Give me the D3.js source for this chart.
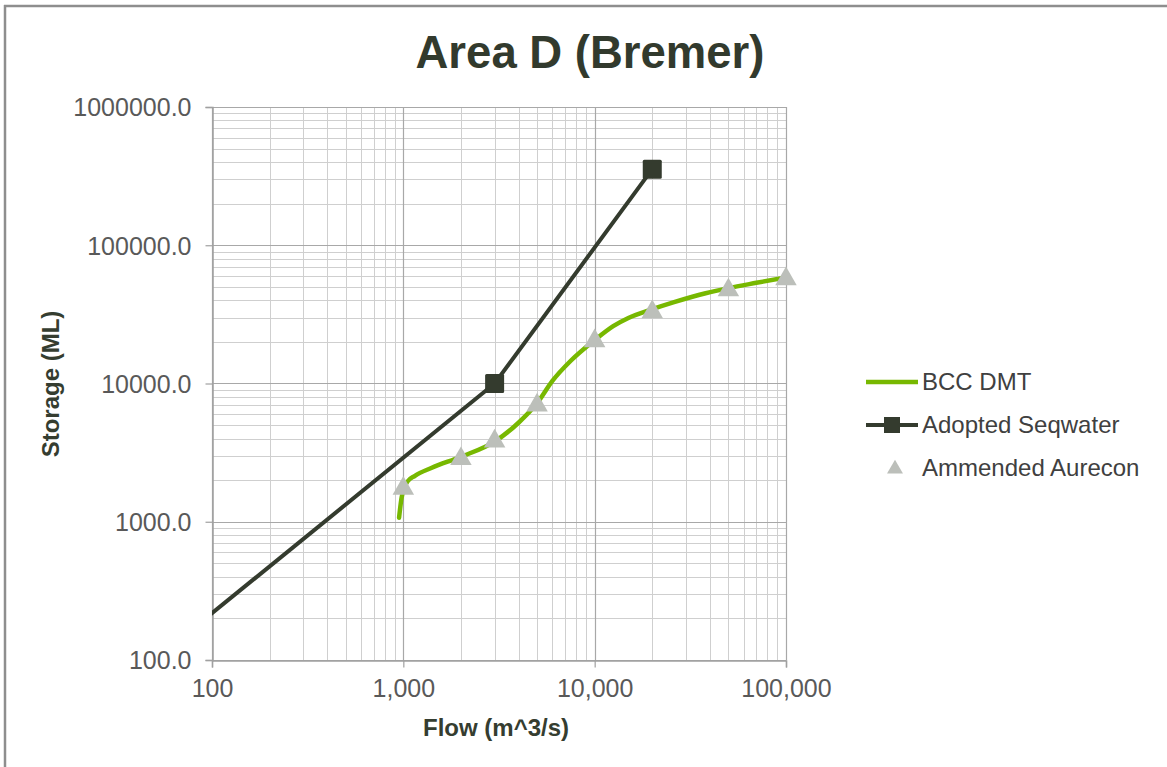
<!DOCTYPE html>
<html>
<head>
<meta charset="utf-8">
<script src="https://cdn.jsdelivr.net/npm/d3@7"></script>
<style>
  html, body { margin: 0; padding: 0; background: #fff; }
  svg { display: block; font-family: "Liberation Sans", Arial, sans-serif; }
</style>
</head>
<body>
<svg id="chart" width="1167" height="767"></svg>
<script>
// Flow (m^3/s) vs storage (ML) for Area D (Bremer)
const bccFlow    = [950, 980, 1050, 1150, 1400, 2000, 3000, 4000, 5000, 6000, 7500, 10000, 12500, 15000, 20000, 26000, 38000, 50000, 70000, 100000];
const bccStorage = [1070, 1500, 1950, 2150, 2450, 2950, 3800, 5200, 7200, 10400, 14600, 20600, 26000, 29800, 34500, 38800, 45000, 49000, 53500, 58500];

const seqFlow    = [50, 3000, 20000];
const seqStorage = [100, 10000, 355000];

const aurFlow    = [1000, 2000, 3000, 5000, 10000, 20000, 50000, 100000];
const aurStorage = [1800, 2950, 3950, 7200, 21000, 34000, 49000, 59000];

const xTicks = [100, 1000, 10000, 100000];
const yTicks = [100, 1000, 10000, 100000, 1000000];

const seriesNames = ["BCC DMT", "Adopted Seqwater", "Ammended Aurecon"];

const svg = d3.select("#chart");
const pLeft = 212, pRight = 786, pTop = 107, pBottom = 660;

const x = d3.scaleLog().domain([100, 100000]).range([pLeft, pRight]);
const y = d3.scaleLog().domain([100, 1000000]).range([pBottom, pTop]);

// Outer frame edges
svg.append("line").attr("x1", 5).attr("x2", 5).attr("y1", 5).attr("y2", 767)
  .attr("stroke", "#8e8e8e").attr("stroke-width", 2.5);
svg.append("line").attr("x1", 4).attr("x2", 1167).attr("y1", 6).attr("y2", 6)
  .attr("stroke", "#8e8e8e").attr("stroke-width", 2.5);

// Title
svg.append("text").attr("x", 590).attr("y", 68).attr("text-anchor", "middle")
  .attr("font-size", 45.5).attr("font-weight", "bold").attr("fill", "#323a2d")
  .text("Area D (Bremer)");

// Minor gridlines (2..9 in each decade)
const minorX = [], minorY = [];
for (let d = 100; d < 100000; d *= 10) for (let k = 2; k <= 9; k++) minorX.push(d * k);
for (let d = 100; d < 1000000; d *= 10) for (let k = 2; k <= 9; k++) minorY.push(d * k);

const grid = svg.append("g");
grid.selectAll(".mx").data(minorX).join("line")
  .attr("x1", d => Math.round(x(d)) + 0.5).attr("x2", d => Math.round(x(d)) + 0.5)
  .attr("y1", pTop).attr("y2", pBottom).attr("stroke", "#cfcfcf").attr("stroke-width", 1);
grid.selectAll(".my").data(minorY).join("line")
  .attr("y1", d => Math.round(y(d)) + 0.5).attr("y2", d => Math.round(y(d)) + 0.5)
  .attr("x1", pLeft).attr("x2", pRight).attr("stroke", "#cfcfcf").attr("stroke-width", 1);
grid.selectAll(".Mx").data(xTicks).join("line")
  .attr("x1", d => Math.round(x(d)) + 0.5).attr("x2", d => Math.round(x(d)) + 0.5)
  .attr("y1", pTop).attr("y2", pBottom).attr("stroke", "#a8a8a8").attr("stroke-width", 1.2);
grid.selectAll(".My").data(yTicks).join("line")
  .attr("y1", d => Math.round(y(d)) + 0.5).attr("y2", d => Math.round(y(d)) + 0.5)
  .attr("x1", pLeft).attr("x2", pRight).attr("stroke", "#a8a8a8").attr("stroke-width", 1.2);

// Axes
const fmtX = d3.format(",");
const xAxis = svg.append("g").attr("transform", `translate(0,${pBottom + 0.5})`)
  .call(d3.axisBottom(x).tickValues(xTicks).tickFormat(fmtX).tickSize(7).tickPadding(12));
const yAxis = svg.append("g").attr("transform", `translate(${pLeft + 0.5},0)`)
  .call(d3.axisLeft(y).tickValues(yTicks).tickFormat(d3.format(".1f")).tickSize(7).tickPadding(14));
[xAxis, yAxis].forEach(a => {
  a.select(".domain").attr("stroke", "#a0a0a0").attr("stroke-width", 1.5);
  a.selectAll(".tick line").attr("stroke", "#a0a0a0").attr("stroke-width", 1.2);
  a.selectAll(".tick text").attr("font-size", 25).attr("fill", "#595959")
    .attr("font-family", "Liberation Sans, Arial, sans-serif");
});
yAxis.selectAll(".tick text").attr("dy", "0.35em");

// Axis titles
svg.append("text").attr("x", 496).attr("y", 736).attr("text-anchor", "middle")
  .attr("font-size", 24).attr("font-weight", "bold").attr("fill", "#353d30")
  .text("Flow (m^3/s)");
svg.append("text").attr("transform", "translate(59,384) rotate(-90)").attr("text-anchor", "middle")
  .attr("font-size", 24).attr("font-weight", "bold").attr("fill", "#353d30")
  .text("Storage (ML)");

// Clip to plot area
svg.append("clipPath").attr("id", "plotClip").append("rect")
  .attr("x", pLeft).attr("y", pTop).attr("width", pRight - pLeft).attr("height", pBottom - pTop);
const plot = svg.append("g").attr("clip-path", "url(#plotClip)");

const green = "#77b800", dark = "#343b2e", tri = "#bcbfba";

// BCC DMT smoothed line
const bcc = bccFlow.map((f, i) => [f, bccStorage[i]]);
plot.append("path").datum(bcc)
  .attr("d", d3.line().x(d => x(d[0])).y(d => y(d[1])).curve(d3.curveMonotoneX))
  .attr("fill", "none").attr("stroke", green).attr("stroke-width", 4.5)
  .attr("stroke-linecap", "round").attr("stroke-linejoin", "round");

// Adopted Seqwater line + square markers
const seq = seqFlow.map((f, i) => [f, seqStorage[i]]);
plot.append("path").datum(seq)
  .attr("d", d3.line().x(d => x(d[0])).y(d => y(d[1])))
  .attr("fill", "none").attr("stroke", dark).attr("stroke-width", 4)
  .attr("stroke-linejoin", "round");
const sq = 19;
svg.selectAll(".sq").data(seq.filter(d => d[0] >= 100)).join("rect")
  .attr("x", d => x(d[0]) - sq / 2).attr("y", d => y(d[1]) - sq / 2)
  .attr("width", sq).attr("height", sq).attr("rx", 1.5).attr("fill", dark);

// Ammended Aurecon triangle markers
const triSym = d3.symbol().type(d3.symbolTriangle).size(200);
svg.selectAll(".tri").data(aurFlow.map((f, i) => [f, aurStorage[i]])).join("path")
  .attr("transform", d => `translate(${x(d[0])},${y(d[1]) + 2})`)
  .attr("d", triSym).attr("fill", tri);

// Legend
const lg = svg.append("g");
const lgY = [382, 425, 468];
lg.append("line").attr("x1", 866).attr("x2", 918).attr("y1", lgY[0]).attr("y2", lgY[0])
  .attr("stroke", green).attr("stroke-width", 4.5);
lg.append("line").attr("x1", 866).attr("x2", 918).attr("y1", lgY[1]).attr("y2", lgY[1])
  .attr("stroke", dark).attr("stroke-width", 4);
lg.append("rect").attr("x", 892 - 8).attr("y", lgY[1] - 8).attr("width", 16).attr("height", 16).attr("fill", dark);
lg.append("path").attr("transform", `translate(895,${lgY[2] + 1})`)
  .attr("d", d3.symbol().type(d3.symbolTriangle).size(110)).attr("fill", tri);
lg.selectAll("text").data(seriesNames).join("text")
  .attr("x", 922).attr("y", (d, i) => lgY[i]).attr("dy", "0.35em")
  .attr("font-size", 24).attr("fill", "#404040").text(d => d);
</script>
</body>
</html>
